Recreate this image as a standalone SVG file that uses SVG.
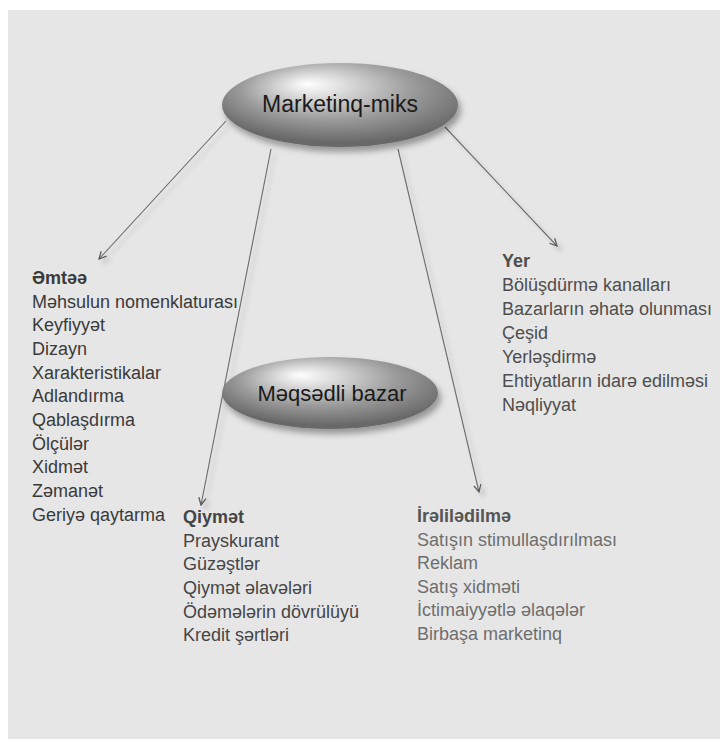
<svg xmlns="http://www.w3.org/2000/svg" width="728" height="744" viewBox="0 0 728 744">
  <defs>
    <style>
      .t { font-family: "Liberation Sans", Arial, sans-serif; font-size: 18px; }
      .h { font-weight: bold; }
      .c-prod { fill: #3a3a3a; }
      .c-price { fill: #454545; }
      .c-place { fill: #4e4e4e; }
      .c-promo { fill: #6e6e6e; }
      .c-promo.h { fill: #555555; }
      .oval-label { font-family: "Liberation Sans", Arial, sans-serif; fill: #1a1a1a; text-anchor: middle; }
      .conn { stroke: #6a6a6a; stroke-width: 1.1; fill: none; marker-end: url(#arrow); }
    </style>
    <radialGradient id="ovalFill" cx="0.5" cy="0.35" r="0.6" fx="0.36" fy="0.25">
      <stop offset="0" stop-color="#ffffff"/>
      <stop offset="0.22" stop-color="#dcdcdc"/>
      <stop offset="0.6" stop-color="#9c9c9c"/>
      <stop offset="1" stop-color="#686868"/>
    </radialGradient>
    <filter id="ovalShadow" x="-20%" y="-30%" width="140%" height="170%">
      <feDropShadow dx="3" dy="5" stdDeviation="3" flood-color="#000" flood-opacity="0.35"/>
    </filter>
    <filter id="lineShadow" x="-10%" y="-10%" width="120%" height="120%">
      <feDropShadow dx="4" dy="4" stdDeviation="2" flood-color="#000" flood-opacity="0.18"/>
    </filter>
    <marker id="arrow" viewBox="0 0 10 10" refX="9" refY="5" markerWidth="9" markerHeight="9" markerUnits="userSpaceOnUse" orient="auto">
      <path d="M1,1 L9,5 L1,9" fill="none" stroke="#5a5a5a" stroke-width="1.4"/>
    </marker>
  </defs>

  <!-- page and panel -->
  <rect x="0" y="0" width="728" height="744" fill="#ffffff"/>
  <rect x="8" y="10" width="712" height="729" fill="#e6e6e6"/>

  <!-- connectors from the central oval -->
  <g id="connectors" filter="url(#lineShadow)">
    <line class="conn" x1="226" y1="121" x2="99" y2="259"/>
    <line class="conn" x1="271" y1="149" x2="201" y2="505"/>
    <line class="conn" x1="398" y1="149" x2="479" y2="492"/>
    <line class="conn" x1="445" y1="127" x2="557" y2="246"/>
  </g>

  <g id="marketing-mix">
    <ellipse cx="340" cy="105" rx="118" ry="42" fill="url(#ovalFill)" filter="url(#ovalShadow)"/>
    <text class="oval-label" x="340" y="112" font-size="23">Marketinq-miks</text>
  </g>

  <g id="target-market">
    <ellipse cx="330" cy="393" rx="108" ry="36" fill="url(#ovalFill)" filter="url(#ovalShadow)"/>
    <text class="oval-label" x="332" y="401" font-size="22">Məqsədli bazar</text>
  </g>

  <g id="product" class="t">
    <text class="h c-prod" x="32" y="284">Əmtəə</text>
    <text class="c-prod" x="32" y="308">Məhsulun nomenklaturası</text>
    <text class="c-prod" x="32" y="331">Keyfiyyət</text>
    <text class="c-prod" x="32" y="355">Dizayn</text>
    <text class="c-prod" x="32" y="379">Xarakteristikalar</text>
    <text class="c-prod" x="32" y="402">Adlandırma</text>
    <text class="c-prod" x="32" y="426">Qablaşdırma</text>
    <text class="c-prod" x="32" y="450">Ölçülər</text>
    <text class="c-prod" x="32" y="473">Xidmət</text>
    <text class="c-prod" x="32" y="497">Zəmanət</text>
    <text class="c-prod" x="32" y="521">Geriyə qaytarma</text>
  </g>

  <g id="place" class="t">
    <text class="h c-place" x="502" y="267">Yer</text>
    <text class="c-place" x="502" y="291">Bölüşdürmə kanalları</text>
    <text class="c-place" x="502" y="315">Bazarların əhatə olunması</text>
    <text class="c-place" x="502" y="339">Çeşid</text>
    <text class="c-place" x="502" y="363">Yerləşdirmə</text>
    <text class="c-place" x="502" y="387">Ehtiyatların idarə edilməsi</text>
    <text class="c-place" x="502" y="411">Nəqliyyat</text>
  </g>

  <g id="price" class="t">
    <text class="h c-price" x="183" y="523">Qiymət</text>
    <text class="c-price" x="183" y="547">Prayskurant</text>
    <text class="c-price" x="183" y="570">Güzəştlər</text>
    <text class="c-price" x="183" y="594">Qiymət əlavələri</text>
    <text class="c-price" x="183" y="618">Ödəmələrin dövrülüyü</text>
    <text class="c-price" x="183" y="641">Kredit şərtləri</text>
  </g>

  <g id="promotion" class="t">
    <text class="h c-promo" x="417" y="522">İrəlilədilmə</text>
    <text class="c-promo" x="417" y="546">Satışın stimullaşdırılması</text>
    <text class="c-promo" x="417" y="569">Reklam</text>
    <text class="c-promo" x="417" y="593">Satış xidməti</text>
    <text class="c-promo" x="417" y="616">İctimaiyyətlə əlaqələr</text>
    <text class="c-promo" x="417" y="640">Birbaşa marketinq</text>
  </g>
</svg>
